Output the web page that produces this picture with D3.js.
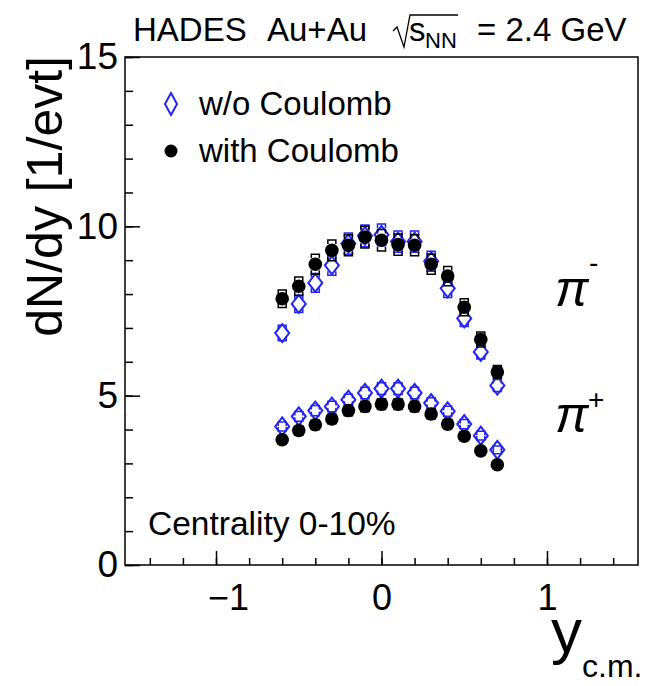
<!DOCTYPE html>
<html><head><meta charset="utf-8">
<script src="https://cdn.jsdelivr.net/npm/d3@7"></script>
<style>body{margin:0;background:#fff}svg{display:block}text{font-family:"Liberation Sans",Arial,sans-serif}</style>
</head><body>
<script>
const rapidity = [-0.6,-0.5,-0.4,-0.3,-0.2,-0.1,0.0,0.1,0.2,0.3,0.4,0.5,0.6,0.7];
const piMinusWith = [7.86,8.23,8.88,9.29,9.44,9.68,9.59,9.46,9.44,8.88,8.53,7.61,6.66,5.70];
const piMinusWithout = [6.85,7.71,8.33,8.85,9.49,9.72,9.75,9.55,9.55,8.97,8.17,7.28,6.29,5.30];
const piPlusWith = [3.70,3.97,4.14,4.31,4.56,4.68,4.75,4.75,4.68,4.46,4.16,3.80,3.37,2.96];
const piPlusWithout = [4.09,4.39,4.56,4.68,4.88,5.08,5.21,5.21,5.08,4.78,4.54,4.16,3.82,3.40];
const sysRel = 0.033;
const xTicks = [-1,0,1];
const yTicks = [0,5,10,15];

const W=645,H=686;
const L=125,R=638,T=57,B=565;
const blue="#2323f5";
const svg=d3.select("body").append("svg").attr("width",W).attr("height",H);
const x=d3.scaleLinear().domain([-1.55,1.55]).range([L,R]);
const y=d3.scaleLinear().domain([0,15]).range([B,T]);

// axes
const xMinor=d3.range(-1.4,1.41,0.2).map(v=>Math.round(v*10)/10);
const yMinor=d3.range(0,15.1,1);
const gx=svg.append("g").attr("transform",`translate(0,${B})`);
gx.call(d3.axisBottom(x).tickValues(xMinor).tickSize(-7).tickFormat(""));
gx.call(g=>g.select(".domain").remove());
const gx2=svg.append("g").attr("transform",`translate(0,${B})`);
gx2.call(d3.axisBottom(x).tickValues(xTicks).tickSize(-14).tickPadding(19).tickFormat(d=>d<0?"\u2212"+Math.abs(d):d));
gx2.select(".domain").remove();
gx2.selectAll("text").attr("font-size",36).attr("font-family","Liberation Sans, Arial").attr("fill","#000").attr("dx",d=>d<0?"12":"0");
const gy=svg.append("g").attr("transform",`translate(${L},0)`);
gy.call(d3.axisLeft(y).tickValues(yMinor).tickSize(-8).tickFormat(""));
gy.select(".domain").remove();
const gy2=svg.append("g").attr("transform",`translate(${L},0)`);
gy2.call(d3.axisLeft(y).tickValues(yTicks).tickSize(-15).tickPadding(7).tickFormat(d3.format("d")));
gy2.select(".domain").remove();
gy2.selectAll("text").attr("font-size",37).attr("font-family","Liberation Sans, Arial").attr("fill","#000");
svg.selectAll(".tick line").attr("stroke","#000").attr("stroke-width",1.5);

svg.append("rect").attr("x",L).attr("y",T).attr("width",R-L).attr("height",B-T)
  .attr("fill","none").attr("stroke","#000").attr("stroke-width",1.5);

// data
function brackets(vals,color){
  const g=svg.append("g").attr("fill","none").attr("stroke",color).attr("stroke-width",1.5);
  vals.forEach((v,i)=>{
    const cx=x(rapidity[i]), yt=y(v*(1+sysRel)), yb=y(v*(1-sysRel));
    g.append("path").attr("d",`M${cx-4},${yt+4}V${yt}H${cx+4}V${yt+4}`);
    g.append("path").attr("d",`M${cx-4},${yb-4}V${yb}H${cx+4}V${yb-4}`);
  });
}
function diamonds(vals){
  svg.append("g").selectAll("path").data(vals).join("path")
    .attr("d",(v,i)=>{const cx=x(rapidity[i]),cy=y(v);return `M${cx},${cy-9}L${cx+7},${cy}L${cx},${cy+9}L${cx-7},${cy}Z`;})
    .attr("fill","none").attr("stroke",blue).attr("stroke-width",2);
}
function circles(vals){
  svg.append("g").selectAll("circle").data(vals).join("circle")
    .attr("cx",(v,i)=>x(rapidity[i])).attr("cy",v=>y(v)).attr("r",6.8).attr("fill","#000");
}
brackets(piMinusWithout,blue);
diamonds(piMinusWithout);
brackets(piPlusWithout,blue);
diamonds(piPlusWithout);
brackets(piMinusWith,"#000");
circles(piMinusWith);
brackets(piPlusWith,"#000");
circles(piPlusWith);

// legend
svg.append("path").attr("d","M171,93L177,104L171,115L165,104Z").attr("fill","none").attr("stroke",blue).attr("stroke-width",2);
svg.append("text").attr("x",199).attr("y",115).attr("font-size",33).text("w/o Coulomb");
svg.append("circle").attr("cx",171).attr("cy",151).attr("r",6.5).attr("fill","#000");
svg.append("text").attr("x",199).attr("y",162).attr("font-size",33).text("with Coulomb");

// title
svg.append("text").attr("x",133).attr("y",41).attr("font-size",33).text("HADES");
svg.append("text").attr("x",267).attr("y",41).attr("font-size",33).text("Au+Au");
svg.append("path").attr("d","M393,31L397,27L404,47L410,15H458").attr("fill","none").attr("stroke","#000").attr("stroke-width",1.3);
svg.append("text").attr("x",409).attr("y",41).attr("font-size",33).text("s");
svg.append("text").attr("x",425).attr("y",48).attr("font-size",22).text("NN");
svg.append("text").attr("x",477).attr("y",41).attr("font-size",33).text("= 2.4 GeV");

// centrality
svg.append("text").attr("x",148).attr("y",535).attr("font-size",33.5).text("Centrality 0-10%");

// pion labels
svg.append("text").attr("x",555).attr("y",306).attr("font-size",50).attr("font-family","Liberation Serif, serif").attr("font-style","italic").text("\u03c0");
svg.append("text").attr("x",589).attr("y",272).attr("font-size",28).text("-");
svg.append("text").attr("x",588).attr("y",409).attr("font-size",28).text("+");
svg.append("text").attr("x",555).attr("y",432).attr("font-size",50).attr("font-family","Liberation Serif, serif").attr("font-style","italic").text("\u03c0");

// axis titles
svg.append("text").attr("transform",`translate(62,${T-1}) rotate(-90)`).attr("text-anchor","end").attr("font-size",50).text("dN/dy [1/evt]");
svg.append("text").attr("x",551).attr("y",652).attr("font-size",62).text("y");
svg.append("text").attr("x",582).attr("y",677).attr("font-size",32).text("c.m.");
</script>
</body></html>
